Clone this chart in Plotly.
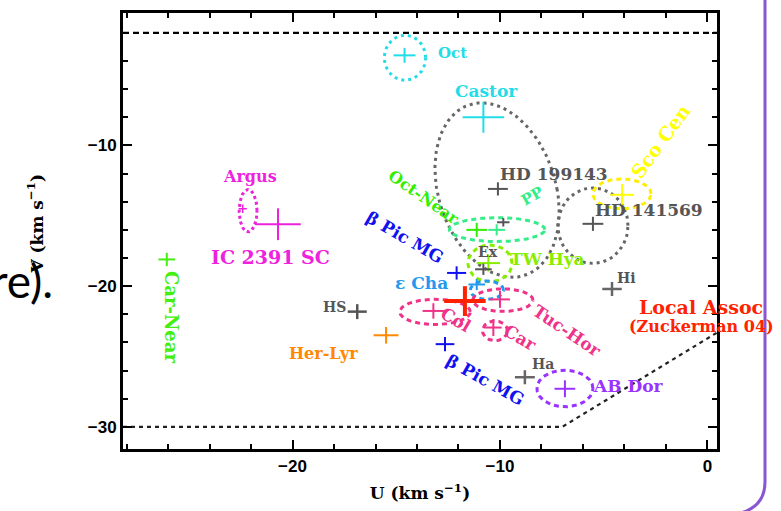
import numpy as np
import plotly.graph_objects as go

# ---------------- data (U, V in km/s) ----------------
U_RANGE = [-28.17, 0.46]
V_RANGE = [-31.57, -0.59]

# group centres with their dispersions (drawn as crosses)
cross_u = [-14.6, -10.8, -20.7, -22.4, -26.06, -16.88, -15.49, -10.10, -5.52, -4.12,
           -11.12, -10.16, -9.84, -10.56, -10.80, -12.09, -11.12, -11.69, -13.21, -10.00,
           -10.32, -12.65, -8.80, -6.87, -4.60]
cross_v = [-3.6, -8.0, -15.6, -14.5, -18.1, -21.81, -23.49, -13.09, -15.57, -13.51,
           -16.0, -16.0, -15.46, -18.36, -18.8, -19.06, -19.88, -21.06, -21.76, -20.94,
           -22.94, -24.12, -26.47, -27.29, -20.2]
cross_eu = [0.53, 1.0, 1.1, 0.2, 0.4, 0.46, 0.6, 0.48, 0.5, 0.56,
            0.5, 0.4, 0.3, 0.56, 0.4, 0.46, 0.4, 1.0, 0.52, 0.48,
            0.4, 0.45, 0.48, 0.5, 0.47]
cross_ev = [0.53, 1.1, 1.13, 0.3, 0.47, 0.53, 0.59, 0.47, 0.5, 0.76,
            0.5, 0.4, 0.3, 0.6, 0.4, 0.47, 0.4, 1.06, 0.55, 0.6,
            0.6, 0.5, 0.5, 0.6, 0.5]
cross_color = ["#22dde8", "#22dde8", "#ee22dd", "#ee22dd", "#44ee11", "#555555", "#ff8800",
               "#555555", "#555555", "#ffff00", "#33ee00", "#33ee88", "#555555", "#88ee00",
               "#555555", "#1111ee", "#2299ee", "#ff2200", "#ee3388", "#ee3388", "#ee3388",
               "#1111ee", "#666666", "#9933ff", "#666666"]
cross_width = [2, 2, 2, 1.5, 2, 2.5, 2, 2, 2, 2, 2, 2, 2, 2, 2, 2, 2, 4, 2, 2, 2, 2, 2.5, 2, 2.5]

# dispersion ellipses: centre, semi-axes, shear, colour, style
ell_u = [-14.58, -10.14, -5.52, -4.12, -22.14, -10.14, -10.48, -10.63, -13.13, -9.86, -10.24, -6.87]
ell_v = [-3.77, -13.17, -15.70, -13.44, -14.64, -15.98, -18.38, -20.28, -21.83, -20.99, -23.17, -27.27]
ell_a = [1.0, 2.9, 1.69, 1.4, 0.43, 2.3, 1.06, 0.8, 1.7, 1.45, 0.6, 1.35]
ell_b = [1.6, 6.2, 2.68, 1.06, 1.5, 0.85, 1.3, 0.65, 0.9, 0.8, 0.7, 1.3]
ell_shear = [0, -0.12, 0, 0, 0, 0, 0, 0, 0, 0, 0, 0]
ell_color = ["#22dde8", "#666666", "#666666", "#ffee00", "#ee22dd", "#33ee88", "#88ee00",
             "#2299ee", "#ee3388", "#ee3388", "#ee3388", "#9933ff"]
ell_dash = ["3px,4px", "3px,4px", "3px,4px", "5px,4px", "3px,3px", "5px,4px", "5px,4px",
            "5px,4px", "5px,4px", "5px,4px", "5px,4px", "5px,4px"]

# Local Association boundary
top_u = [-28.17, 0.46]
top_v = [-2.0, -2.0]
bound_u = [-28.17, -7.0, 0.46]
bound_v = [-30.0, -30.0, -23.3]

# labels
lab_text = ["Oct", "Castor", "Argus", "IC 2391 SC", "HD 199143", "HD 141569", "Her-Lyr",
            "AB Dor", "Local Assoc", "(Zuckerman 04)", "HS", "Ex", "Hi", "Ha", "ε Cha",
            "TW Hya", "Oct-Near", "β Pic MG", "β Pic MG", "Tuc-Hor", "Col", "Car",
            "Car-Near", "Sco Cen", "PP"]
lab_u = [-12.3, -10.65, -22.07, -21.08, -7.39, -2.82, -18.5, -3.8, -0.31, -0.31,
         -18.0, -10.6, -3.88, -7.93, -13.8, -7.7, -13.64, -14.6, -10.7, -6.75,
         -12.1, -9.0, -25.8, -2.27, -8.43]
lab_v = [-3.43, -6.1, -12.2, -17.9, -12.05, -14.6, -24.75, -27.06, -21.48, -22.9,
         -21.45, -17.6, -19.45, -25.5, -19.8, -18.1, -13.67, -16.5, -26.7, -23.2,
         -22.4, -23.7, -22.2, -9.65, -13.6]
lab_angle = [0, 0, 0, 0, 0, 0, 0, 0, 0, 0, 0, 0, 0, 0, 0, 0, 35, 30, 29, 34, 30, 30, 90, -54, -30]
lab_color = ["#22dde8", "#22dde8", "#ee22dd", "#ee22dd", "#555555", "#555555", "#ff8800",
             "#9933ff", "#ff2200", "#ff2200", "#555555", "#555555", "#555555", "#555555",
             "#2299ee", "#88ee00", "#33ee00", "#1111ee", "#1111ee", "#ee3388", "#ee3388",
             "#ee3388", "#44ee11", "#ffff00", "#33ee88"]
lab_size = [15, 17, 16, 19, 17, 17, 16, 17, 19, 16, 14, 14, 14, 14, 17, 17, 16, 17, 17, 17,
            17, 17, 18, 19, 15]

# ---------------- figure ----------------
fig = go.Figure()
SERIF = "DejaVu Serif"

# boundary lines
fig.add_trace(go.Scatter(x=top_u, y=top_v, mode="lines",
                         line=dict(color="black", width=2.4, dash="6px,4px"),
                         showlegend=False, hoverinfo="skip"))
fig.add_trace(go.Scatter(x=bound_u, y=bound_v, mode="lines",
                         line=dict(color="#222222", width=2.2, dash="4px,4px"),
                         showlegend=False, hoverinfo="skip"))

# ellipses
t = np.linspace(0, 2 * np.pi, 120)
for cu, cv, a, b, sh, col, dsh in zip(ell_u, ell_v, ell_a, ell_b, ell_shear, ell_color, ell_dash):
    dv = b * np.sin(t)
    du = a * np.cos(t) + sh * dv
    fig.add_trace(go.Scatter(x=cu + du, y=cv + dv, mode="lines",
                             line=dict(color=col, width=3, dash=dsh),
                             showlegend=False, hoverinfo="skip"))

# crosses (centres with dispersions)
for u, v, eu, ev, col, w in zip(cross_u, cross_v, cross_eu, cross_ev, cross_color, cross_width):
    fig.add_trace(go.Scatter(x=[u], y=[v], mode="markers",
                             marker=dict(size=1, color=col),
                             error_x=dict(type="data", array=[eu], color=col, thickness=w, width=0),
                             error_y=dict(type="data", array=[ev], color=col, thickness=w, width=0),
                             showlegend=False, hoverinfo="skip"))

# labels
for txt, u, v, ang, col, sz in zip(lab_text, lab_u, lab_v, lab_angle, lab_color, lab_size):
    fig.add_annotation(x=u, y=v, text="<b>" + txt + "</b>", showarrow=False, textangle=ang,
                       font=dict(family=SERIF, size=sz, color=col),
                       xanchor="center", yanchor="middle")

# page geometry
W, H = 781, 511
ML, MR, MT, MB = 123, 64, 10, 62
pw, ph = W - ML - MR, H - MT - MB


def px(x):
    return (x - ML) / pw


def py(y):
    return (H - MB - y) / ph


# y-axis title
fig.add_annotation(x=px(22), y=py(222), xref="paper", yref="paper", showarrow=False,
                   text="<b>V (km s<sup>−1</sup>)</b>", textangle=-90,
                   font=dict(family=SERIF, size=17, color="black"))

# slide text fragment
fig.add_annotation(x=px(55), y=py(279), xref="paper", yref="paper", showarrow=False,
                   text="re).", xanchor="right", yanchor="middle",
                   font=dict(family="Lato", size=46, color="black"))

# slide border (purple)
fig.add_shape(type="path", xref="paper", yref="paper",
              path=f"M {px(765)},{py(-5)} L {px(765)},{py(482)} Q {px(765)},{py(508)} {px(738)},{py(514)}",
              line=dict(color="#8a55d0", width=3))

axis_common = dict(showgrid=False, zeroline=False, showline=True, linecolor="black", linewidth=3,
                   mirror="ticks", ticks="inside", ticklen=9, tickwidth=2, tickcolor="black",
                   tickfont=dict(family="Liberation Sans", size=17, color="black", weight="bold"),
                   dtick=10, tick0=0,
                   minor=dict(dtick=2, ticks="inside", ticklen=5, tickwidth=1.5, tickcolor="black"))

fig.update_layout(
    width=W, height=H, margin=dict(l=ML, r=MR, t=MT, b=MB),
    paper_bgcolor="white", plot_bgcolor="white", showlegend=False,
    xaxis=dict(range=U_RANGE, title=dict(text="<b>U (km s<sup>−1</sup>)</b>",
               font=dict(family=SERIF, size=17, color="black"), standoff=12), **axis_common),
    yaxis=dict(range=V_RANGE, **axis_common),
)

fig.write_html("out.html")
